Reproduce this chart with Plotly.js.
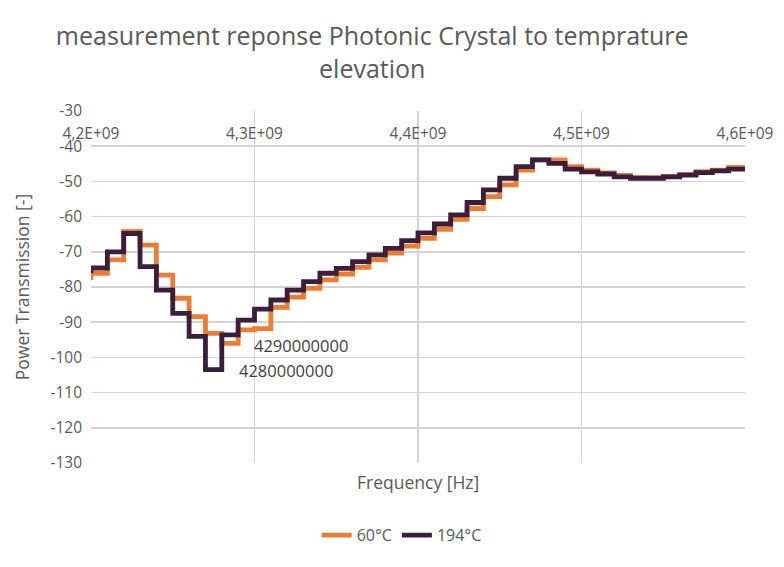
<!DOCTYPE html>
<html>
<head>
<meta charset="utf-8">
<script src="https://cdn.plot.ly/plotly-3.0.1.min.js"></script>
<style>html,body{margin:0;padding:0;background:#fff;}#chart{width:784px;height:567px;}</style>
</head>
<body>
<div id="chart"></div>
<script>
// Frequency samples (Hz), every 10 MHz from 4.20E+09 to 4.60E+09
const frequency = [
  4.20e9, 4.21e9, 4.22e9, 4.23e9, 4.24e9, 4.25e9, 4.26e9, 4.27e9, 4.28e9, 4.29e9,
  4.30e9, 4.31e9, 4.32e9, 4.33e9, 4.34e9, 4.35e9, 4.36e9, 4.37e9, 4.38e9, 4.39e9,
  4.40e9, 4.41e9, 4.42e9, 4.43e9, 4.44e9, 4.45e9, 4.46e9, 4.47e9, 4.48e9, 4.49e9,
  4.50e9, 4.51e9, 4.52e9, 4.53e9, 4.54e9, 4.55e9, 4.56e9, 4.57e9, 4.58e9, 4.59e9,
  4.60e9
];
const power60 = [
  -78.0, -76.1, -72.3, -64.2, -68.1, -76.6, -83.2, -88.4, -93.2, -96.0,
  -92.2, -91.8, -85.8, -82.9, -80.4, -78.0, -76.3, -74.4, -72.3, -70.4,
  -68.4, -66.2, -63.6, -60.8, -57.7, -54.3, -51.0, -46.8, -43.9, -43.9,
  -45.8, -46.8, -47.6, -48.3, -48.9, -49.0, -48.6, -48.0, -47.2, -46.8,
  -46.0
];
const power194 = [
  -76.0, -74.6, -70.0, -64.8, -74.2, -80.9, -87.5, -94.0, -103.5, -93.6,
  -89.4, -86.3, -83.7, -80.9, -78.5, -76.1, -74.7, -72.8, -70.9, -69.0,
  -66.8, -64.6, -62.1, -59.5, -56.0, -52.4, -49.1, -45.8, -43.9, -44.9,
  -46.5, -47.3, -47.9, -48.7, -49.1, -49.1, -48.7, -48.2, -47.5, -47.0,
  -46.5
];
const seriesNames = ["60°C", "194°C"];
const xTickVals = [4.2e9, 4.3e9, 4.4e9, 4.5e9, 4.6e9];
const xTickText = ["4,2E+09", "4,3E+09", "4,4E+09", "4,5E+09", "4,6E+09"];
const yTickVals = [-130, -120, -110, -100, -90, -80, -70, -60, -50, -40, -30];
const yTickText = ["-130", "-120", "-110", "-100", "-90", "-80", "-70", "-60", "-50", "-40", "-30"];
const labelIndex60 = 9;   // 4290000000
const labelIndex194 = 8;  // 4280000000

const traces = [
  {x: frequency, y: power60, name: seriesNames[0], type: "scatter", mode: "lines",
   line: {color: "#ED7D31", width: 4.8, shape: "vh"}},
  {x: frequency, y: power194, name: seriesNames[1], type: "scatter", mode: "lines",
   line: {color: "#3B1D3D", width: 4.8, shape: "vh"}}
];

const grey = "#595959";
const layout = {
  width: 784, height: 567,
  margin: {l: 91, r: 39, t: 111, b: 104},
  paper_bgcolor: "#fff", plot_bgcolor: "#fff",
  font: {family: "Open Sans, Noto Sans, sans-serif", color: grey, size: 15.5},
  title: {text: "measurement reponse Photonic Crystal to temprature<br>elevation",
          font: {size: 25, color: grey}, x: 0.43, xref: "paper", xanchor: "center",
          y: 0.92, yanchor: "middle", yref: "container"},
  xaxis: {range: [4.2e9, 4.6e9], tickvals: xTickVals, ticktext: xTickText,
          showgrid: true, gridcolor: "#D4D4D4", gridwidth: 1.5, zeroline: false,
          showline: false, ticks: "", anchor: "free", position: 0.966, side: "bottom",
          tickfont: {size: 15.5, color: grey}},
  yaxis: {range: [-130, -30], tickvals: yTickVals, ticktext: yTickText, showgrid: true,
          gridcolor: "#D4D4D4", gridwidth: 1.5, zeroline: false, showline: false, ticks: "",
          ticklabelstandoff: 8, tickfont: {size: 15.5, color: grey},
          title: {text: "Power Transmission [-]", font: {size: 17.5, color: grey}, standoff: 16}},
  showlegend: true,
  legend: {orientation: "h", x: 0.475, xanchor: "center", y: -0.205, yanchor: "middle",
           font: {size: 16, color: grey}, itemwidth: 30, tracegroupgap: 0},
  annotations: [
    {x: frequency[labelIndex60], y: power60[labelIndex60], text: String(frequency[labelIndex60]),
     showarrow: false, xanchor: "left", yanchor: "middle", xshift: 14, yshift: -2,
     font: {size: 16.5, color: "#404040"}},
    {x: frequency[labelIndex194], y: power194[labelIndex194], text: String(frequency[labelIndex194]),
     showarrow: false, xanchor: "left", yanchor: "middle", xshift: 15, yshift: -1,
     font: {size: 16.5, color: "#404040"}},
    {x: 0.5, y: -0.055, xref: "paper", yref: "paper", text: "Frequency [Hz]", showarrow: false,
     xanchor: "center", yanchor: "middle", font: {size: 17.5, color: grey}}
  ]
};

Plotly.newPlot("chart", traces, layout, {displayModeBar: false, staticPlot: true});
</script>
</body>
</html>
